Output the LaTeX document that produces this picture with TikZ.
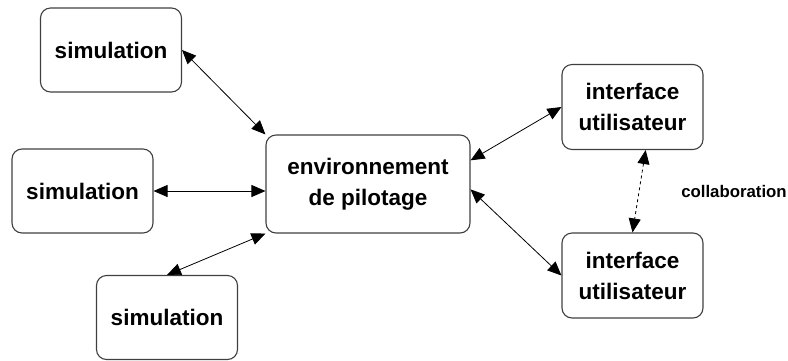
\documentclass[tikz,border=0pt]{standalone}
\usepackage{fontspec}
\setmainfont{Liberation Sans}
\usetikzlibrary{arrows.meta,positioning}

\begin{document}
\begin{tikzpicture}[x=1pt, y=-1pt, <->, >={Triangle[length=14pt,width=12pt]},
	every node/.style={font=\bfseries\fontsize{22.5}{31}\selectfont, align=center},
	box/.style={draw=black!75, line width=1.1pt, rounded corners=10pt, minimum width=141pt, minimum height=84pt},
	link/.style={black, line width=0.8pt}
	]
\useasboundingbox (0,0) rectangle (788,360);
% \draw[help lines] (0,0) grid[step=50] (788,360);
\node[box] (sim1) at (111,50)    {simulation};
\node[box] (sim2) at (82.5,191)  {simulation};
\node[box] (sim3) at (167,317.5) {simulation};
\node[box, minimum width=204pt, minimum height=98pt] (env) at (368,184) {environnement\\de pilotage};

\node[box, minimum height=85pt] (ui1) at (632.5,107)   {interface\\utilisateur};
\node[box, minimum height=85pt] (ui2) at (632.5,275.5) {interface\\utilisateur};
\node[font=\bfseries\fontsize{16.8}{18}\selectfont] (collab) at (734,191) {collaboration};

\path[link]
(sim1.east) edge [] (env.north west)
(sim2.east) edge [] (sim2.east -| env.west)
(sim3.north) edge [] (env.south west)
(env.13) edge [] (ui1.west)
(env.-3) edge [] (ui2.west)
;
\path[link]
(ui1.-73) edge [dashed] (ui2.north)
;
\end{tikzpicture}
\end{document}
